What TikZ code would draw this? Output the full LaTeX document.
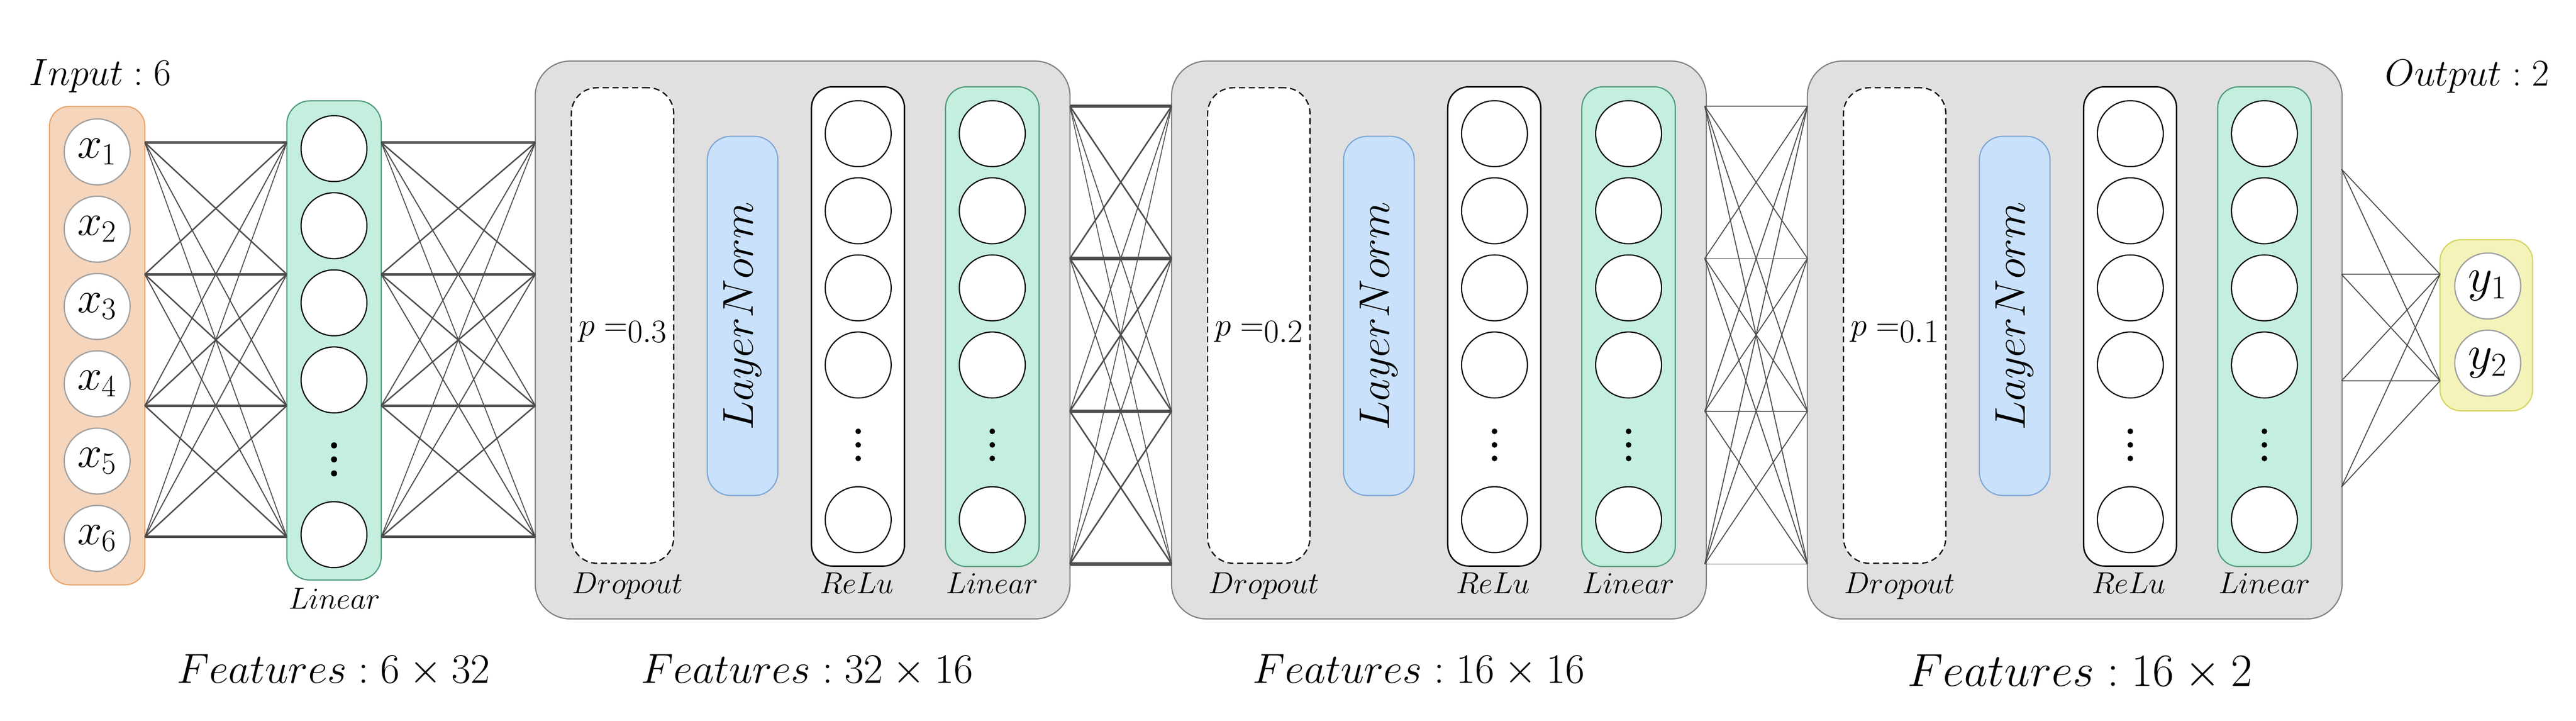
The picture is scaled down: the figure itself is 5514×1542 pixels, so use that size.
\RequirePackage{fix-cm}
\documentclass[tikz,border=0pt]{standalone}
\definecolor{orfill}{HTML}{F5D5BC}
\definecolor{ordraw}{HTML}{E8A56A}
\definecolor{grfill}{HTML}{C4EEDD}
\definecolor{grdraw}{HTML}{4E9A7A}
\definecolor{blfill}{HTML}{C9E1FB}
\definecolor{bldraw}{HTML}{7CA7D8}
\definecolor{yefill}{HTML}{F3F3BA}
\definecolor{yedraw}{HTML}{D6D45E}
\definecolor{gyfill}{HTML}{E0E0E0}
\definecolor{gydraw}{HTML}{7F7F7F}
\definecolor{cirgray}{HTML}{A0A0A0}
\definecolor{wirecol}{HTML}{4D4D4D}
\newcommand\fsz[1]{\fontsize{#1}{#1}\selectfont}
\begin{document}
\begin{tikzpicture}[x=0.01cm,y=-0.01cm,
  box/.style={inner sep=0pt, line width=0.025cm},
  neuron/.style={circle, draw=black, fill=white, line width=0.025cm, minimum size=1.41cm, inner sep=0pt},
  ioneuron/.style={neuron, draw=cirgray, line width=0.027cm},
  wireA0/.style={draw=wirecol, line width=0.055cm},
  wireA1/.style={draw=wirecol, line width=0.03cm},
  wireA2/.style={draw=wirecol, line width=0.023cm},
  wireA3/.style={draw=wirecol, line width=0.02cm},
  wireB0/.style={draw=wirecol, line width=0.068cm},
  wireB1/.style={draw=wirecol, line width=0.032cm},
  wireB2/.style={draw=wirecol, line width=0.02cm},
  wireB3/.style={draw=wirecol, line width=0.018cm},
  wireC/.style={draw=wirecol, line width=0.021cm},
  lab/.style={anchor=base, inner sep=0pt, font=\fsz{18.5}},
  dotfill/.style={fill=black},
]
\useasboundingbox (0,0) rectangle (5514,1542);

% ---------- input block ----------
\node[box, draw=ordraw, fill=orfill, rounded corners=0.42cm,
      minimum width=2.04cm, minimum height=10.23cm] (inbox) at (208,739.5) {};
\foreach \i in {1,...,6}{
  \pgfmathsetmacro\yy{325+165.4*(\i-1)}
  \node[ioneuron, font=\fsz{27}] (x\i) at (208,\yy) {$x_{\i}$};
}
\node[anchor=base, inner sep=0pt, font=\fsz{23}] (inlab) at (214,182) {$Input : 6$};

% ---------- first linear ----------
\node[box, draw=grdraw, fill=grfill, rounded corners=0.5cm,
      minimum width=2.02cm, minimum height=10.25cm] (lin0) at (715,728.5) {};
\foreach \yy [count=\k] in {318,483,648,813,1144}{
  \node[neuron] (l0n\k) at (715,\yy) {};
}
\foreach \yy in {953,983,1013}{ \fill[dotfill] (715,\yy) circle (0.065cm); }
\node[lab] (lin0lab) at (716,1303) {$Linear$};

% ---------- gray blocks ----------
\foreach \g/\gx/\pp in {1/1146/0.3, 2/2508/0.2, 3/3869/0.1}{
  \node[box, draw=gydraw, fill=gyfill, rounded corners=0.75cm,
        minimum width=11.44cm, minimum height=11.93cm] (gray\g) at (\gx+572,727.5) {};
  \node[box, draw=black, fill=white, dash pattern=on 0.13cm off 0.08cm, line width=0.027cm,
        rounded corners=0.55cm, minimum width=2.19cm, minimum height=10.17cm] (drop\g) at (\gx+186.5,696.5) {};
  \node[anchor=base, inner sep=0pt, font=\fsz{20}] (p\g) at (\gx+187,718) {$p =$\raisebox{-0.15cm}{$\pp$}};
  \node[box, draw=bldraw, fill=blfill, rounded corners=0.5cm,
        minimum width=1.51cm, minimum height=7.68cm] (ln\g) at (\gx+443.5,676) {};
  \node[rotate=90, inner sep=0pt, font=\fsz{26.2}] (lnt\g) at (\gx+443.5,676) {$LayerNorm$};
  \node[box, draw=black, fill=white, line width=0.03cm, rounded corners=0.45cm,
        minimum width=1.99cm, minimum height=10.25cm] (relu\g) at (\gx+690.5,698.5) {};
  \node[box, draw=grdraw, fill=grfill, rounded corners=0.45cm,
        minimum width=2.0cm, minimum height=10.26cm] (lin\g) at (\gx+978,699) {};
  \foreach \yy [count=\k] in {286,451,616,781,1112}{
    \node[neuron] (r\g n\k) at (\gx+691,\yy) {};
    \node[neuron] (l\g n\k) at (\gx+978,\yy) {};
  }
  \foreach \yy in {923,952,981}{
    \fill[dotfill] (\gx+691,\yy) circle (0.06cm);
    \fill[dotfill] (\gx+978,\yy) circle (0.06cm);
  }
  \node[lab] (dl\g) at (\gx+197,1270) {$Dropout$};
  \node[lab] (rl\g) at (\gx+688,1270) {$ReLu$};
  \node[lab] (ll\g) at (\gx+978,1270) {$Linear$};
}

% ---------- output block ----------
\node[box, draw=yedraw, fill=yefill, rounded corners=0.45cm,
      minimum width=1.98cm, minimum height=3.66cm] (outbox) at (5322,696) {};
\node[ioneuron, font=\fsz{29}] (y1) at (5325,612) {$y_1$};
\node[ioneuron, font=\fsz{29}] (y2) at (5325,777) {$y_2$};
\node[anchor=base, inner sep=0pt, font=\fsz{23}] (outlab) at (5281,184) {$Output : 2$};

% ---------- ports ----------
\foreach \yy [count=\k from 0] in {305,587,868,1149}{
  \coordinate (a\k) at (310,\yy);
  \coordinate (b\k) at (614,\yy);
  \coordinate (c\k) at (816,\yy);
  \coordinate (d\k) at (1146,\yy);
}
\foreach \yy [count=\k from 0] in {227,553,880,1207}{
  \coordinate (e\k) at (2290,\yy);
  \coordinate (f\k) at (2508,\yy);
  \coordinate (g\k) at (3649,\yy);
  \coordinate (h\k) at (3869,\yy);
}
\foreach \yy [count=\k from 0] in {362,587,815,1042}{
  \coordinate (k\k) at (5012,\yy);
}
\coordinate (m0) at (5223,587);
\coordinate (m1) at (5223,815);

% ---------- connectors ----------
\foreach \i in {0,...,3}{
  \foreach \j in {0,...,3}{
    \pgfmathtruncatemacro\dd{abs(\i-\j)}
    \draw[wireA\dd] (a\i) -- (b\j);
    \draw[wireA\dd] (c\i) -- (d\j);
    \draw[wireB\dd] (e\i) -- (f\j);
    \draw[wireC] (g\i) -- (h\j);
  }
  \draw[wireC] (k\i) -- (m0);
  \draw[wireC] (k\i) -- (m1);
}

% ---------- feature labels ----------
\node[anchor=base, inner sep=0pt, font=\fsz{25.6}] (feat1) at (714,1462) {$Features : 6\times 32$};
\node[anchor=base, inner sep=0pt, font=\fsz{25.6}] (feat2) at (1728,1462) {$Features : 32\times 16$};
\node[anchor=base, inner sep=0pt, font=\fsz{25.6}] (feat3) at (3037,1462) {$Features : 16\times 16$};
\node[anchor=base, inner sep=0pt, font=\fsz{28.2}] (feat4) at (4452,1468) {$Features : 16\times 2$};
\end{tikzpicture}
\end{document}
